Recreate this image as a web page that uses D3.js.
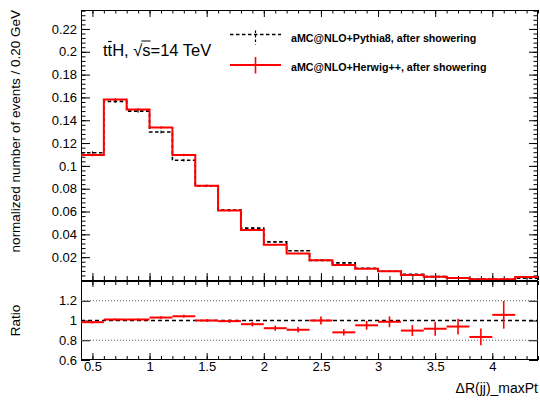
<!DOCTYPE html>
<html>
<head>
<meta charset="utf-8">
<script src="https://cdn.jsdelivr.net/npm/d3@7"></script>
<style>
  body { margin: 0; background: #fff; }
  svg { display: block; }
  text { font-family: "Liberation Sans", Arial, Helvetica, sans-serif; fill: #000; }
</style>
</head>
<body>
<svg id="chart" width="540" height="400"></svg>
<script>
// Lower edges of the 0.20-wide ΔR bins
const binLow = [0.4, 0.6, 0.8, 1.0, 1.2, 1.4, 1.6, 1.8, 2.0, 2.2,
                2.4, 2.6, 2.8, 3.0, 3.2, 3.4, 3.6, 3.8, 4.0, 4.2];
const binWidth = 0.2;

// Normalized distributions
const pythia = [0.1115, 0.1565, 0.1480, 0.1297, 0.1050, 0.0825, 0.0612, 0.0455, 0.0334, 0.0256,
                0.0172, 0.0150, 0.0103, 0.0077, 0.0049, 0.0030, 0.0018, 0.0009, 0.0007, 0.0016];
const pythiaErr = [0.0012, 0.0014, 0.0014, 0.0013, 0.0012, 0.0010, 0.0009, 0.0008, 0.0007, 0.0006,
                   0.0005, 0.0005, 0.0004, 0.0003, 0.0003, 0.0002, 0.0002, 0.0001, 0.0001, 0.0002];
const herwig = [0.1096, 0.1581, 0.1495, 0.1336, 0.1095, 0.0825, 0.0608, 0.0438, 0.0308, 0.0232,
                0.0172, 0.0132, 0.0098, 0.0076, 0.0044, 0.00275, 0.00169, 0.00075, 0.00074, 0.0026];
const herwigErr = [0.0012, 0.0014, 0.0014, 0.0013, 0.0012, 0.0010, 0.0009, 0.0008, 0.0007, 0.0006,
                   0.0005, 0.0005, 0.0004, 0.0003, 0.0003, 0.0002, 0.0002, 0.0001, 0.0001, 0.0002];
// Uncertainty on the Herwig/Pythia ratio
const ratioErr = [0.012, 0.010, 0.010, 0.012, 0.015, 0.015, 0.018, 0.022, 0.026, 0.028,
                  0.040, 0.032, 0.045, 0.055, 0.055, 0.070, 0.080, 0.085, 0.140, 0.200];

const mainTicks = [0.02, 0.04, 0.06, 0.08, 0.1, 0.12, 0.14, 0.16, 0.18, 0.2, 0.22];
const ratioTicks = [0.6, 0.8, 1, 1.2];
const xTicks = [0.5, 1, 1.5, 2, 2.5, 3, 3.5, 4];
const seriesNames = ["aMC@NLO+Pythia8, after showering", "aMC@NLO+Herwig++, after showering"];

const svg = d3.select("#chart");
const L = 81, R = 538;
const mainTop = 10, mainBot = 280;
const ratTop = 281, ratBot = 360;

const x = d3.scaleLinear().domain([0.4, 4.4]).range([L, R]);
const yMain = d3.scaleLinear().domain([0, 0.2366]).range([mainBot, mainTop]);
const yRat = d3.scaleLinear().domain([0.6, 1.4]).range([ratBot, ratTop]);

const fmt = d => String(+(+d).toFixed(3));
const minorMain = d3.range(0, 0.2366, 0.004);
const minorX = d3.range(0.4, 4.401, 0.1).map(v => +v.toFixed(2));

function axis(g, gen) {
  g.call(gen);
  g.select(".domain").remove();
  g.selectAll(".tick line").attr("stroke", "#000").attr("stroke-width", 1);
  g.selectAll(".tick text").attr("font-size", 13).attr("font-family", '"Liberation Sans", Arial, sans-serif');
  return g;
}

// ---------- main panel ----------
svg.append("clipPath").attr("id", "clipMain")
  .append("rect").attr("x", L).attr("y", mainTop).attr("width", R - L).attr("height", mainBot - mainTop);

// Left axis
axis(svg.append("g").attr("transform", `translate(${L},0)`),
  d3.axisLeft(yMain).tickValues(mainTicks).tickSize(-9).tickPadding(4).tickFormat(fmt));
axis(svg.append("g").attr("transform", `translate(${L},0)`),
  d3.axisLeft(yMain).tickValues(minorMain).tickSize(-4.5).tickFormat(""));
// Right axis
axis(svg.append("g").attr("transform", `translate(${R},0)`),
  d3.axisRight(yMain).tickValues(mainTicks).tickSize(-9).tickFormat(""));
axis(svg.append("g").attr("transform", `translate(${R},0)`),
  d3.axisRight(yMain).tickValues(minorMain).tickSize(-4.5).tickFormat(""));
// Top axis
axis(svg.append("g").attr("transform", `translate(0,${mainTop})`),
  d3.axisTop(x).tickValues(xTicks).tickSize(-7).tickFormat(""));
axis(svg.append("g").attr("transform", `translate(0,${mainTop})`),
  d3.axisTop(x).tickValues(minorX).tickSize(-3.5).tickFormat(""));
// Bottom axis of main pad
axis(svg.append("g").attr("transform", `translate(0,${mainBot})`),
  d3.axisBottom(x).tickValues(xTicks).tickSize(-7).tickFormat(""));
axis(svg.append("g").attr("transform", `translate(0,${mainBot})`),
  d3.axisBottom(x).tickValues(minorX).tickSize(-4).tickFormat(""));

svg.append("rect").attr("x", L + 0.5).attr("y", mainTop + 0.5)
  .attr("width", R - L - 1).attr("height", mainBot - mainTop)
  .attr("fill", "none").attr("stroke", "#000").attr("stroke-width", 1);

function stepPath(vals) {
  const p = d3.path();
  vals.forEach((v, i) => {
    const x0 = x(binLow[i]), x1 = x(binLow[i] + binWidth), yy = yMain(v);
    if (i === 0) p.moveTo(x0, yy); else p.lineTo(x0, yy);
    p.lineTo(x1, yy);
  });
  return p.toString();
}

const gHist = svg.append("g").attr("clip-path", "url(#clipMain)");
gHist.append("path").attr("d", stepPath(pythia))
  .attr("fill", "none").attr("stroke", "#000").attr("stroke-width", 1.6)
  .attr("stroke-dasharray", "3.5,2.5");
gHist.append("path").attr("d", stepPath(herwig))
  .attr("fill", "none").attr("stroke", "#ff0000").attr("stroke-width", 2);

// statistical error ticks at bin centres
gHist.selectAll("line.ep").data(pythia).join("line").attr("class", "ep")
  .attr("x1", (d, i) => x(binLow[i] + binWidth / 2)).attr("x2", (d, i) => x(binLow[i] + binWidth / 2))
  .attr("y1", (d, i) => yMain(d - pythiaErr[i])).attr("y2", (d, i) => yMain(d + pythiaErr[i]))
  .attr("stroke", "#000").attr("stroke-width", 1);
gHist.selectAll("line.eh").data(herwig).join("line").attr("class", "eh")
  .attr("x1", (d, i) => x(binLow[i] + binWidth / 2)).attr("x2", (d, i) => x(binLow[i] + binWidth / 2))
  .attr("y1", (d, i) => yMain(d - herwigErr[i])).attr("y2", (d, i) => yMain(d + herwigErr[i]))
  .attr("stroke", "#ff0000").attr("stroke-width", 1);

// Title with t-bar and square-root overline
const title = svg.append("text").attr("x", 103).attr("y", 56).attr("font-size", 16.5)
  .text("ttH, \u221As=14 TeV");
const tn = title.node();
const tS = tn.getStartPositionOfChar(1), tE = tn.getEndPositionOfChar(1);
svg.append("line").attr("x1", tS.x + 0.5).attr("x2", tE.x - 0.5)
  .attr("y1", 41.5).attr("y2", 41.5).attr("stroke", "#000").attr("stroke-width", 1.2);
const rS = tn.getEndPositionOfChar(5), sE = tn.getEndPositionOfChar(6);
svg.append("line").attr("x1", rS.x - 1).attr("x2", sE.x)
  .attr("y1", 41).attr("y2", 41).attr("stroke", "#000").attr("stroke-width", 1);

// Legend
const lg = svg.append("g");
lg.append("line").attr("x1", 230).attr("x2", 281).attr("y1", 34.5).attr("y2", 34.5)
  .attr("stroke", "#000").attr("stroke-width", 1.6).attr("stroke-dasharray", "3.5,2.5");
lg.append("line").attr("x1", 255.5).attr("x2", 255.5).attr("y1", 30.5).attr("y2", 44.5)
  .attr("stroke", "#000").attr("stroke-width", 1.2).attr("stroke-dasharray", "2.5,2");
lg.append("line").attr("x1", 230).attr("x2", 281).attr("y1", 65).attr("y2", 65)
  .attr("stroke", "#ff0000").attr("stroke-width", 2);
lg.append("line").attr("x1", 255.5).attr("x2", 255.5).attr("y1", 57).attr("y2", 73.5)
  .attr("stroke", "#ff0000").attr("stroke-width", 1.6);
lg.selectAll("text").data(seriesNames).join("text")
  .attr("x", 291).attr("y", (d, i) => i === 0 ? 42 : 71)
  .attr("font-size", 10.7).attr("font-weight", "bold").text(d => d);

// Y title
svg.append("text").attr("transform", `translate(20,10) rotate(-90)`)
  .attr("text-anchor", "end").attr("font-size", 13.5)
  .text("normalized number of events / 0.20 GeV");

// ---------- ratio panel ----------
const ratio = herwig.map((v, i) => v / pythia[i]);

svg.append("clipPath").attr("id", "clipRat")
  .append("rect").attr("x", L).attr("y", ratTop).attr("width", R - L).attr("height", ratBot - ratTop);

axis(svg.append("g").attr("transform", `translate(${L},0)`),
  d3.axisLeft(yRat).tickValues(ratioTicks).tickSize(-9).tickPadding(4).tickFormat(fmt));
axis(svg.append("g").attr("transform", `translate(${R},0)`),
  d3.axisRight(yRat).tickValues(ratioTicks).tickSize(-9).tickFormat(""));
axis(svg.append("g").attr("transform", `translate(0,${ratTop})`),
  d3.axisTop(x).tickValues(xTicks).tickSize(-6).tickFormat(""));
axis(svg.append("g").attr("transform", `translate(0,${ratTop})`),
  d3.axisTop(x).tickValues(minorX).tickSize(-4).tickFormat(""));
axis(svg.append("g").attr("transform", `translate(0,${ratBot})`),
  d3.axisBottom(x).tickValues(xTicks).tickSize(-7).tickPadding(2).tickFormat(fmt));
axis(svg.append("g").attr("transform", `translate(0,${ratBot})`),
  d3.axisBottom(x).tickValues(minorX).tickSize(-4).tickFormat(""));

svg.append("rect").attr("x", L + 0.5).attr("y", ratTop + 0.5)
  .attr("width", R - L - 1).attr("height", ratBot - ratTop - 1)
  .attr("fill", "none").attr("stroke", "#000").attr("stroke-width", 1);

// reference lines
[0.8, 1.2].forEach(v => {
  svg.append("line").attr("x1", L).attr("x2", R).attr("y1", yRat(v)).attr("y2", yRat(v))
    .attr("stroke", "#555").attr("stroke-width", 1).attr("stroke-dasharray", "1,2");
});
svg.append("line").attr("x1", L).attr("x2", R).attr("y1", yRat(1)).attr("y2", yRat(1))
  .attr("stroke", "#000").attr("stroke-width", 1.5).attr("stroke-dasharray", "4,3");

const gR = svg.append("g").attr("clip-path", "url(#clipRat)");
const ratioPts = ratio.map((r, i) => ({ r, e: ratioErr[i], lo: binLow[i] }))
  .filter(d => d.r >= 0.6 && d.r <= 1.4);
gR.selectAll("line.rh").data(ratioPts).join("line").attr("class", "rh")
  .attr("x1", d => x(d.lo)).attr("x2", d => x(d.lo + binWidth))
  .attr("y1", d => yRat(d.r)).attr("y2", d => yRat(d.r))
  .attr("stroke", "#ff0000").attr("stroke-width", 2);
gR.selectAll("line.rv").data(ratioPts).join("line").attr("class", "rv")
  .attr("x1", d => x(d.lo + binWidth / 2)).attr("x2", d => x(d.lo + binWidth / 2))
  .attr("y1", d => yRat(d.r - d.e)).attr("y2", d => yRat(d.r + d.e))
  .attr("stroke", "#ff0000").attr("stroke-width", 1.6);

svg.append("text").attr("transform", `translate(20,320.5) rotate(-90)`)
  .attr("text-anchor", "middle").attr("font-size", 13.5).text("Ratio");

svg.append("text").attr("x", R).attr("y", 393).attr("text-anchor", "end")
  .attr("font-size", 14).text("\u0394R(jj)_maxPt");
</script>
</body>
</html>
